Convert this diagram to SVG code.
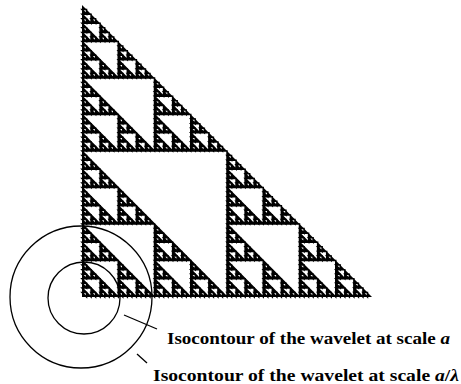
<svg xmlns="http://www.w3.org/2000/svg" xmlns:xlink="http://www.w3.org/1999/xlink" width="461" height="384" viewBox="0 0 461 384">
<style>
.hole{fill:#fff;stroke:#000;stroke-width:1.5;vector-effect:non-scaling-stroke;stroke-linejoin:miter}
.ring{fill:none;stroke:#000;stroke-width:1.3}
.lead{stroke:#000;stroke-width:1.3;fill:none}
.lbl{font-family:"Liberation Serif","Times New Roman",serif;font-weight:bold;font-size:16px;fill:#000}
</style>
<defs>
<polygon id="h" class="hole" points="0,0.5 0.5,0.5 0.5,1"/>
<g id="L1"><use href="#h"/></g>
<g id="L2"><use href="#h"/><use href="#L1" transform="scale(0.5)"/><use href="#L1" transform="translate(0,0.5) scale(0.5)"/><use href="#L1" transform="translate(0.5,0.5) scale(0.5)"/></g>
<g id="L3"><use href="#h"/><use href="#L2" transform="scale(0.5)"/><use href="#L2" transform="translate(0,0.5) scale(0.5)"/><use href="#L2" transform="translate(0.5,0.5) scale(0.5)"/></g>
<g id="L4"><use href="#h"/><use href="#L3" transform="scale(0.5)"/><use href="#L3" transform="translate(0,0.5) scale(0.5)"/><use href="#L3" transform="translate(0.5,0.5) scale(0.5)"/></g>
<g id="L5"><use href="#h"/><use href="#L4" transform="scale(0.5)"/><use href="#L4" transform="translate(0,0.5) scale(0.5)"/><use href="#L4" transform="translate(0.5,0.5) scale(0.5)"/></g>
<g id="L6"><use href="#h"/><use href="#L5" transform="scale(0.5)"/><use href="#L5" transform="translate(0,0.5) scale(0.5)"/><use href="#L5" transform="translate(0.5,0.5) scale(0.5)"/></g>
</defs>
<g id="sierpinski" transform="translate(82,5) scale(290,292)">
<polygon points="0,0 0,1 1,1" fill="#000"/>
<use href="#L6"/>
</g>
<g id="isocontour-a">
<circle class="ring" cx="84" cy="298" r="36"/>
</g>
<g id="isocontour-a-lambda">
<circle class="ring" cx="81" cy="297" r="71"/>
</g>
<g id="connectors">
<line class="lead" x1="124" y1="315" x2="157" y2="329"/>
<line class="lead" x1="137" y1="354" x2="147" y2="363"/>
</g>
<g id="labels">
<text class="lbl" x="167" y="344" textLength="283" lengthAdjust="spacingAndGlyphs">Isocontour of the wavelet at scale <tspan font-style="italic">a</tspan></text>
<text class="lbl" x="153" y="381" textLength="306" lengthAdjust="spacingAndGlyphs">Isocontour of the wavelet at scale <tspan font-style="italic">a</tspan>/<tspan font-style="italic">λ</tspan></text>
</g>
</svg>
